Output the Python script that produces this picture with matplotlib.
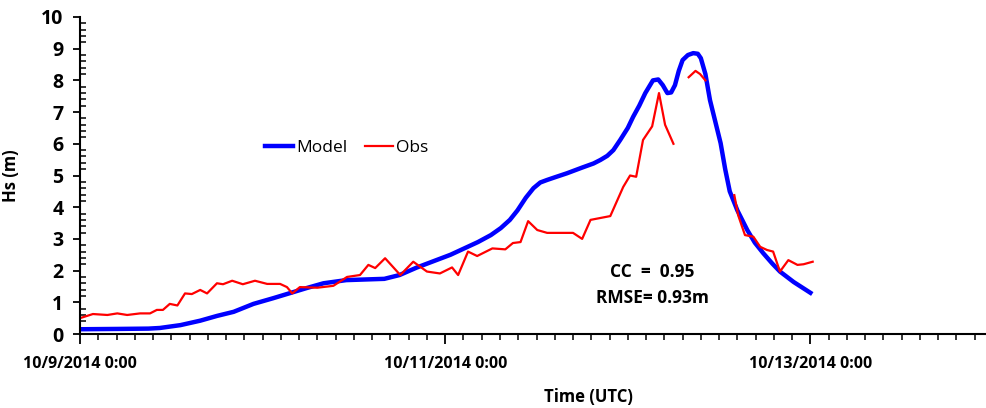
import numpy as np
import pandas as pd
import matplotlib
matplotlib.use("Agg")
import matplotlib.pyplot as plt
import matplotlib.dates as mdates
from matplotlib.ticker import FuncFormatter, MultipleLocator

plt.rcParams['font.family'] = ['Open Sans', 'DejaVu Sans']

start = pd.Timestamp("2014-10-09 00:00")

# Model: hours since start, Hs (m)
model_h = [0, 5, 9, 10.5, 13.2, 15.8, 18, 20.2, 22.8, 25.4, 27.6, 29.8, 32, 35,
           37.5, 40, 42, 44.3, 46.5, 48.7, 50.5, 52.3, 54, 55.3, 56.5, 57.5,
           58.6, 59.6, 60.5, 61.4, 62.5, 64, 66, 67.5, 68.4, 69.3, 70.1, 71,
           72, 72.7, 73.5, 74.3, 75.3, 76, 76.6, 77.2, 77.7, 78.2, 78.7, 79.2,
           79.9, 80.6, 81.2, 81.6, 82.2, 82.8, 83.5, 84.2, 84.8, 85.4, 86.4,
           87.7, 88.7, 89.8, 91, 92, 93.8, 96]
model_hs = [0.15, 0.16, 0.17, 0.19, 0.28, 0.42, 0.57, 0.70, 0.95, 1.13, 1.29,
            1.45, 1.6, 1.7, 1.72, 1.74, 1.86, 2.1, 2.3, 2.5, 2.7, 2.9, 3.12,
            3.34, 3.6, 3.9, 4.3, 4.6, 4.78, 4.86, 4.95, 5.07, 5.25, 5.38, 5.49,
            5.62, 5.8, 6.12, 6.5, 6.85, 7.2, 7.6, 8.0, 8.03, 7.85, 7.6, 7.62,
            7.85, 8.3, 8.64, 8.8, 8.86, 8.84, 8.7, 8.2, 7.38, 6.7, 6.02, 5.2,
            4.5, 3.9, 3.28, 2.88, 2.55, 2.22, 1.97, 1.64, 1.3]

# Obs: hours since start, Hs (m); NaN marks gaps in the record
obs_h = [0, 1.7, 3.6, 4.9, 6.2, 7.9, 9.2, 10.1, 10.9, 11.8, 12.8, 13.8, 14.7,
         15.8, 16.7, 18, 18.8, 20, 21.4, 23, 24.6, 26.3, 27.2, 27.9, 28.9,
         31.2, 33.3, 35.1, 36.8, 37.9, 38.8, 40.1, 42.1, 43.8, 45.6, 47.3,
         48.9, 49.7, 51, 52.2, 54.2, 55.9, 56.9, 57.9, 58.9, 60.1, 61.4,
         64.8, 66, 67.1, 69.7, 71.4, 72.3, 73.1, 74, 75.2, 76.1, 76.9, 78,
         79, 80, 80.9, 81.5, 82.2, 84, 86, 86.5, 87.4, 88.5, 89.4, 90.3,
         91.1, 92, 93.1, 94.3, 95.1, 96.3]
obs_hs = [0.5, 0.63, 0.6, 0.65, 0.6, 0.65, 0.65, 0.76, 0.76, 0.95, 0.9, 1.28,
          1.26, 1.39, 1.28, 1.6, 1.57, 1.68, 1.57, 1.68, 1.58, 1.58, 1.48,
          1.28, 1.48, 1.46, 1.52, 1.8, 1.86, 2.18, 2.08, 2.39, 1.86, 2.28,
          1.97, 1.91, 2.1, 1.86, 2.6, 2.46, 2.7, 2.67, 2.87, 2.9, 3.56, 3.28,
          3.19, 3.19, 3.0, 3.6, 3.72, 4.64, 5.0, 4.96, 6.12, 6.55, 7.6, 6.6,
          6.0, np.nan, 8.1, 8.3, 8.2, 8.0, np.nan, 4.38, 3.75, 3.12, 3.07,
          2.75, 2.65, 2.6, 1.97, 2.33, 2.18, 2.2, 2.28]

model_t = start + pd.to_timedelta(model_h, unit="h")
obs_t = start + pd.to_timedelta(obs_h, unit="h")

fig = plt.figure(figsize=(9.86, 4.08), dpi=100)
ax = fig.add_axes([80 / 986, 1 - 334 / 408, 913 / 986, 317 / 408])

ax.plot(model_t, model_hs, color="#0000ff", lw=3.2, label="Model",
        solid_joinstyle="round")
ax.plot(obs_t, obs_hs, color="#ff0000", lw=1.6, label="Obs",
        solid_joinstyle="round")

x0 = mdates.date2num(start)
ax.set_xlim(x0, x0 + 5)
ax.set_ylim(0, 10)

ax.set_xticks([x0, x0 + 2, x0 + 4])
ax.xaxis.set_minor_locator(MultipleLocator(0.1))


def fmt(v, pos):
    d = mdates.num2date(v)
    return f"{d.month}/{d.day}/{d.year} {d.hour}:{d.minute:02d}"


ax.xaxis.set_major_formatter(FuncFormatter(fmt))
ax.set_yticks(range(0, 11))
ax.yaxis.set_minor_locator(MultipleLocator(0.2))

for s in ["top", "right"]:
    ax.spines[s].set_visible(False)
for s in ["left", "bottom"]:
    ax.spines[s].set_linewidth(1.5)

ax.tick_params(axis="x", which="major", direction="out", length=7, width=1.3,
               pad=9, labelsize=11.5)
ax.tick_params(axis="x", which="minor", direction="out", length=4, width=1.1)
ax.tick_params(axis="y", which="major", direction="out", length=5, width=1.3,
               pad=7, labelsize=14)
ax.tick_params(axis="y", which="minor", direction="in", length=4, width=1.1)
for lab in ax.get_xticklabels() + ax.get_yticklabels():
    lab.set_fontweight("bold")

ax.set_ylabel("Hs (m)", fontsize=12, fontweight="bold")
ax.yaxis.set_label_coords(-0.066, 0.5)
ax.set_xlabel("Time (UTC)", fontsize=12, fontweight="bold")
ax.xaxis.set_label_coords((588 - 80) / 913, -0.17)

fig.legend(loc="center", bbox_to_anchor=(347 / 986, 1 - 148 / 408), ncol=2,
           frameon=False, fontsize=12.5, handlelength=1.6, handletextpad=0.2,
           columnspacing=1.0)

fig.text(652 / 986, 1 - 285 / 408, "CC  =  0.95\nRMSE= 0.93m", ha="center",
         va="center", fontsize=12.5, fontweight="bold", linespacing=1.55)

fig.savefig("out.png", dpi=100)
